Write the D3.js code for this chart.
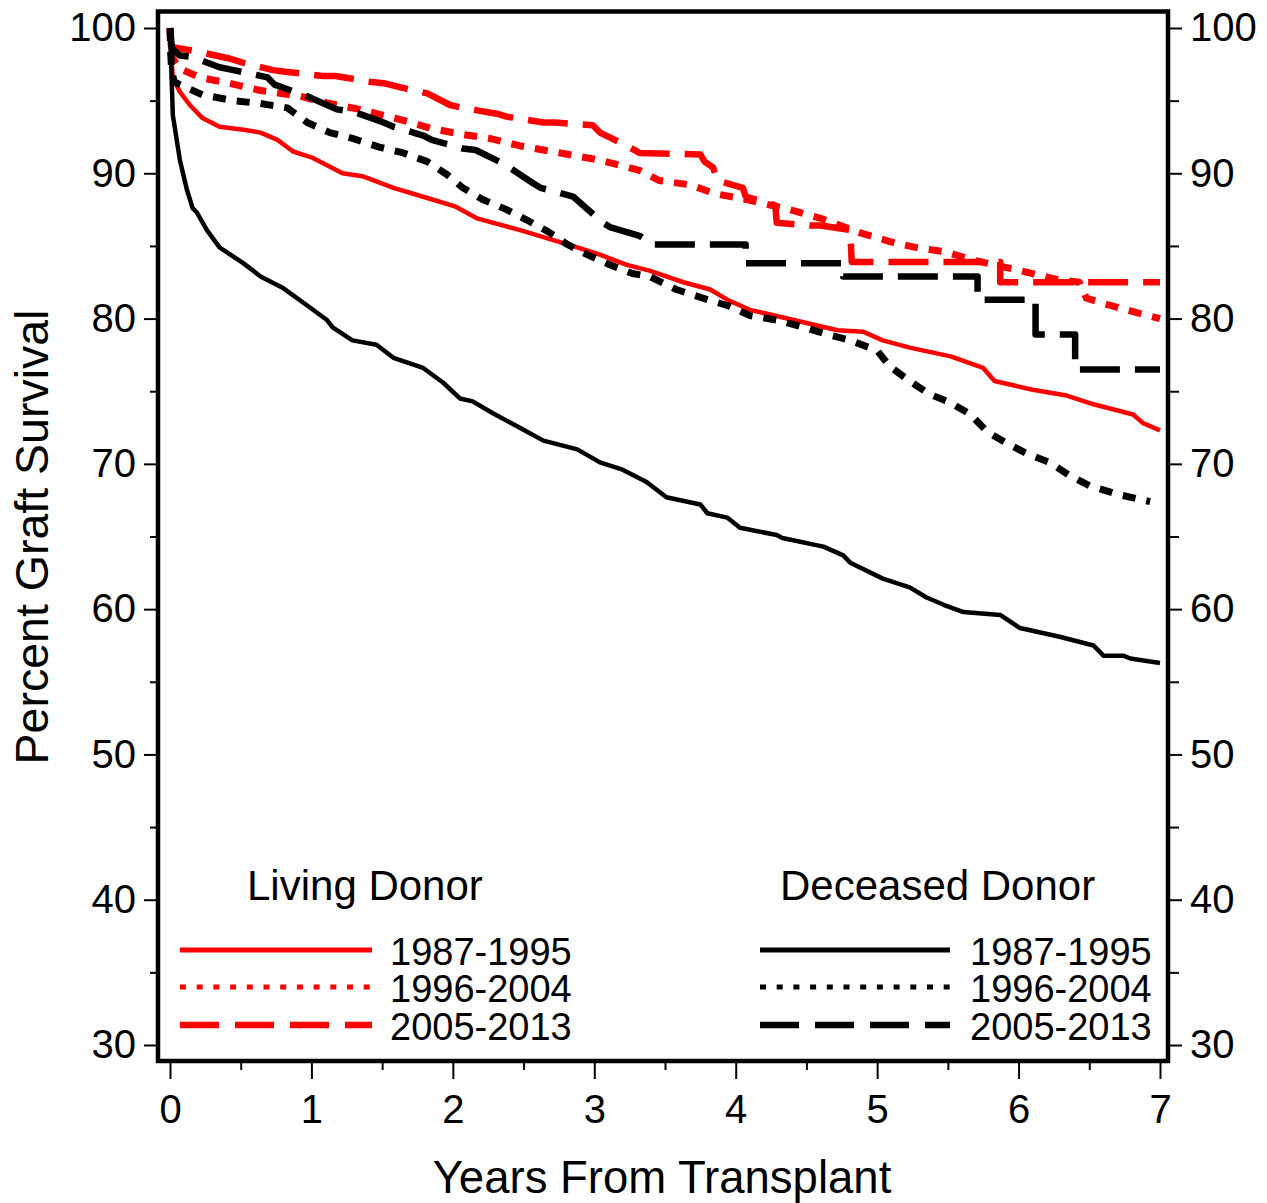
<!DOCTYPE html>
<html>
<head>
<meta charset="utf-8">
<script src="https://cdn.jsdelivr.net/npm/d3@7"></script>
<style>
  html, body { margin: 0; padding: 0; background: #fff; }
  svg { display: block; font-family: Arial, "Liberation Sans", sans-serif; }
</style>
</head>
<body>
<svg id="chart" width="1267" height="1203"></svg>
<script>
// Kaplan-Meier graft survival (%) by transplant era, [years, percent].
// Where a curve holds flat and then drops, both corners of the step are listed.
const eras = ["1987-1995", "1996-2004", "2005-2013"];
const donorGroups = ["Living Donor", "Deceased Donor"];

const living1987 = [[0,100],[0.01,97.8],[0.02,96.6],[0.07,95.6],[0.14,94.7],[0.23,93.8],[0.35,93.2],[0.52,93.0],[0.64,92.8],[0.76,92.3],[0.87,91.5],[1.0,91.1],[1.22,90.0],[1.36,89.8],[1.58,89.0],[1.82,88.3],[2.02,87.7],[2.17,86.9],[2.47,86.1],[2.64,85.6],[2.88,84.9],[3.04,84.4],[3.23,83.7],[3.39,83.3],[3.63,82.5],[3.82,82.0],[3.94,81.3],[4.10,80.6],[4.41,79.9],[4.72,79.2],[4.90,79.1],[5.04,78.5],[5.23,78.0],[5.52,77.4],[5.75,76.6],[5.83,75.7],[6.10,75.1],[6.34,74.7],[6.53,74.1],[6.81,73.4],[6.88,72.8],[7.0,72.3]];

const living1996 = [[0,100],[0.007,98.1],[0.07,97.2],[0.21,96.6],[0.42,96.2],[0.64,95.7],[0.92,95.3],[1.13,94.8],[1.34,94.4],[1.63,93.7],[1.84,93.1],[2.05,92.7],[2.26,92.4],[2.47,91.9],[2.76,91.4],[3.04,90.9],[3.32,90.2],[3.46,89.5],[3.68,89.2],[3.85,88.6],[4.07,88.2],[4.38,87.5],[4.60,86.9],[4.88,85.9],[5.09,85.3],[5.27,84.9],[5.48,84.6],[5.69,84.0],[6.01,83.3],[6.27,82.7],[6.43,82.5],[6.48,81.4],[6.65,80.9],[6.84,80.4],[7.0,80.0]];

const living2005 = [[0,100],[0.007,98.7],[0.21,98.35],[0.42,97.9],[0.52,97.6],[0.73,97.1],[0.80,97.0],[1.08,96.7],[1.17,96.7],[1.41,96.3],[1.51,96.2],[1.72,95.7],[1.82,95.5],[1.98,94.7],[2.07,94.5],[2.31,94.1],[2.38,93.9],[2.64,93.5],[2.72,93.5],[2.99,93.3],[3.04,92.8],[3.23,91.9],[3.32,91.4],[3.75,91.3],[3.78,90.8],[3.84,90.4],[3.87,89.5],[4.05,89.0],[4.07,88.4],[4.28,87.8],[4.29,86.6],[4.53,86.4],[4.60,86.4],[4.81,86.1],[4.82,83.9],[5.87,83.9],[5.87,82.5],[7.0,82.5]];

const deceased1987 = [[0,100],[0.02,94.0],[0.07,90.9],[0.12,88.85],[0.16,87.6],[0.19,87.3],[0.26,86.1],[0.35,84.9],[0.52,83.8],[0.64,82.9],[0.80,82.1],[0.97,80.9],[1.11,79.9],[1.15,79.4],[1.29,78.5],[1.46,78.2],[1.58,77.3],[1.79,76.6],[1.93,75.6],[2.05,74.5],[2.14,74.3],[2.28,73.5],[2.47,72.5],[2.64,71.6],[2.88,71.0],[3.04,70.1],[3.20,69.6],[3.37,68.75],[3.51,67.7],[3.75,67.2],[3.80,66.6],[3.94,66.3],[4.03,65.6],[4.29,65.1],[4.33,64.9],[4.62,64.3],[4.76,63.7],[4.81,63.2],[5.04,62.1],[5.23,61.5],[5.35,60.8],[5.47,60.3],[5.61,59.8],[5.87,59.6],[6.01,58.7],[6.29,58.1],[6.53,57.5],[6.60,56.8],[6.74,56.8],[6.79,56.6],[7.0,56.3]];

const deceased1996 = [[0,100],[0.01,97.1],[0.03,96.3],[0.07,96.1],[0.23,95.4],[0.45,95.0],[0.64,94.8],[0.83,94.5],[0.97,93.5],[1.13,92.8],[1.29,92.4],[1.48,91.8],[1.65,91.4],[1.82,90.8],[1.96,89.9],[2.07,89.0],[2.21,88.2],[2.38,87.5],[2.52,86.8],[2.67,86.0],[2.81,85.1],[2.95,84.4],[3.11,83.7],[3.27,83.1],[3.39,82.9],[3.58,82.0],[3.77,81.4],[3.94,80.9],[4.10,80.2],[4.29,79.9],[4.48,79.4],[4.65,78.9],[4.81,78.5],[5.0,77.8],[5.09,76.7],[5.23,75.7],[5.37,74.8],[5.52,74.2],[5.66,73.4],[5.78,72.2],[5.92,71.4],[6.06,70.7],[6.22,70.1],[6.36,69.2],[6.50,68.5],[6.70,67.9],[6.93,67.4]];

const deceased2005 = [[0,100],[0.014,98.6],[0.07,98.1],[0.16,98.0],[0.35,97.3],[0.45,97.1],[0.69,96.6],[0.74,96.1],[0.97,95.3],[1.18,94.4],[1.31,94.2],[1.51,93.5],[1.58,93.2],[1.79,92.6],[1.85,92.3],[2.07,91.7],[2.16,91.6],[2.33,90.8],[2.40,90.4],[2.57,89.3],[2.62,89.0],[2.85,88.4],[2.92,87.8],[3.06,86.6],[3.11,86.3],[3.32,85.7],[3.41,85.1],[4.07,85.1],[4.07,83.8],[4.76,83.8],[4.76,82.9],[5.71,82.9],[5.71,81.3],[6.12,81.3],[6.12,78.9],[6.40,78.9],[6.40,76.5],[7.0,76.5]];

const xTicks = [0, 1, 2, 3, 4, 5, 6, 7];
const yTicks = [30, 40, 50, 60, 70, 80, 90, 100];

const svg = d3.select("#chart");

const x = d3.scaleLinear().domain([0, 7]).range([170, 1160]);
const y = d3.scaleLinear().domain([30, 100]).range([1045, 28]);

// plot frame
const frame = { left: 158, right: 1168, top: 11.5, bottom: 1061 };

// line styles per era
const styles = {
  "1987-1995": { dash: null, width: 4.5 },
  "1996-2004": { dash: "13,11", width: 7 },
  "2005-2013": { dash: "40,15", width: 6.5 }
};

const series = [
  { group: "Living Donor", era: "1987-1995", color: "#ff0000", data: living1987 },
  { group: "Living Donor", era: "1996-2004", color: "#ff0000", data: living1996 },
  { group: "Living Donor", era: "2005-2013", color: "#ff0000", data: living2005 },
  { group: "Deceased Donor", era: "1987-1995", color: "#000000", data: deceased1987 },
  { group: "Deceased Donor", era: "1996-2004", color: "#000000", data: deceased1996 },
  { group: "Deceased Donor", era: "2005-2013", color: "#000000", data: deceased2005 }
];

const line = d3.line().x(d => x(d[0])).y(d => y(d[1])).curve(d3.curveLinear);

const plot = svg.append("g");
series.forEach(s => {
  const st = styles[s.era];
  plot.append("path")
    .datum(s.data)
    .attr("d", line)
    .attr("fill", "none")
    .attr("stroke", s.color)
    .attr("stroke-width", st.width)
    .attr("stroke-dasharray", st.dash)
    .attr("stroke-linejoin", "round");
});

// axes: ticks outside the frame
const minorY = d3.range(35, 100, 10);
const minorX = d3.range(0.5, 7, 1);

svg.append("g").attr("transform", `translate(${frame.left - 2},0)`)
  .call(d3.axisLeft(y).tickValues(yTicks).tickSize(12).tickPadding(8).tickFormat(d3.format("d")));
svg.append("g").attr("transform", `translate(${frame.right + 2},0)`)
  .call(d3.axisRight(y).tickValues(yTicks).tickSize(12).tickPadding(8).tickFormat(d3.format("d")));
svg.append("g").attr("transform", `translate(0,${frame.bottom + 2})`)
  .call(d3.axisBottom(x).tickValues(xTicks).tickSize(16).tickPadding(16).tickFormat(d3.format("d")));

svg.append("g").attr("transform", `translate(${frame.left - 2},0)`)
  .call(d3.axisLeft(y).tickValues(minorY).tickSize(6).tickFormat(""));
svg.append("g").attr("transform", `translate(${frame.right + 2},0)`)
  .call(d3.axisRight(y).tickValues(minorY).tickSize(9).tickFormat(""));
svg.append("g").attr("transform", `translate(0,${frame.bottom + 2})`)
  .call(d3.axisBottom(x).tickValues(minorX).tickSize(7).tickFormat(""));

svg.selectAll(".domain").remove();
svg.selectAll(".tick line").attr("stroke", "#000").attr("stroke-width", 2);
svg.selectAll(".tick text").attr("fill", "#000").attr("font-size", 40)
  .attr("font-family", "Arial, 'Liberation Sans', sans-serif");

svg.append("rect")
  .attr("x", frame.left).attr("y", frame.top)
  .attr("width", frame.right - frame.left).attr("height", frame.bottom - frame.top)
  .attr("fill", "none").attr("stroke", "#000").attr("stroke-width", 4.5);

// axis titles
svg.append("text")
  .attr("x", 662).attr("y", 1193)
  .attr("text-anchor", "middle").attr("font-size", 45.5)
  .text("Years From Transplant");
svg.append("text")
  .attr("transform", "translate(48,537) rotate(-90)")
  .attr("text-anchor", "middle").attr("font-size", 46.5)
  .text("Percent Graft Survival");

// legend
const legendCols = [
  { group: donorGroups[0], color: "#ff0000", titleX: 247, lineX0: 180, lineX1: 372, textX: 390 },
  { group: donorGroups[1], color: "#000000", titleX: 780, lineX0: 760, lineX1: 950, textX: 970 }
];
const legendRowY = [950, 987, 1025];
const legendDash = { "1987-1995": null, "1996-2004": "6,10.7", "2005-2013": "39,16" };
const legendWidth = { "1987-1995": 5, "1996-2004": 5, "2005-2013": 6.5 };

const legend = svg.append("g");
legendCols.forEach(col => {
  legend.append("text")
    .attr("x", col.titleX).attr("y", 900)
    .attr("font-size", 42)
    .text(col.group);
  eras.forEach((era, i) => {
    legend.append("line")
      .attr("x1", col.lineX0).attr("x2", col.lineX1)
      .attr("y1", legendRowY[i]).attr("y2", legendRowY[i])
      .attr("stroke", col.color)
      .attr("stroke-width", legendWidth[era])
      .attr("stroke-dasharray", legendDash[era]);
    legend.append("text")
      .attr("x", col.textX).attr("y", legendRowY[i] + 15)
      .attr("font-size", 38)
      .text(era);
  });
});
</script>
</body>
</html>
